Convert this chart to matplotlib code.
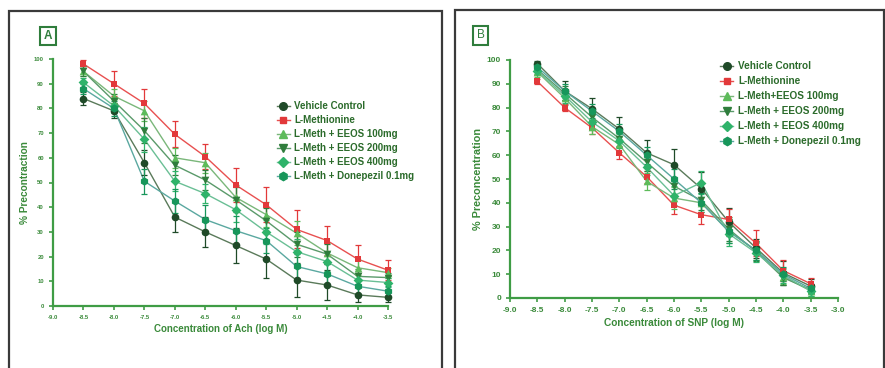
import matplotlib
matplotlib.use("Agg")
import matplotlib.pyplot as plt
from matplotlib.patches import Rectangle
import numpy as np

plt.rcParams['font.family'] = ['Liberation Sans', 'DejaVu Sans']

# ---------------- data ----------------
conc = [-8.5, -8.0, -7.5, -7.0, -6.5, -6.0, -5.5, -5.0, -4.5, -4.0, -3.5]

labels_a = ["Vehicle Control", "L-Methionine", "L-Meth + EEOS 100mg",
            "L-Meth + EEOS 200mg", "L-Meth + EEOS 400mg", "L-Meth + Donepezil 0.1mg"]
labels_b = ["Vehicle Control", "L-Methionine", "L-Meth+EEOS 100mg",
            "L-Meth + EEOS 200mg", "L-Meth + EEOS 400mg", "L-Meth + Donepezil 0.1mg"]

# Panel A (Ach)
a_vehicle = [84, 79, 58, 36, 30, 24.5, 19, 10.5, 8.5, 4.5, 3.5]
a_lmeth = [98, 90, 82, 69.5, 60.5, 49, 41, 31, 26.5, 19, 14.5]
a_e100 = [95, 85, 79, 60, 58, 44, 37, 29.5, 21.5, 15.5, 13.5]
a_e200 = [95, 83, 71, 57, 51, 43, 34.5, 25, 21, 12, 11.5]
a_e400 = [90.5, 81, 67.5, 50.5, 45.5, 39, 30, 22, 18, 10.5, 9.5]
a_done = [88, 80, 50.5, 42.5, 35, 30.5, 26.5, 16, 13, 8, 6]

a_vehicle_err = [2.5, 3, 5, 6, 6, 7, 7.5, 7, 6, 3, 2]
a_lmeth_err = [1.5, 5, 5.7, 5.3, 5, 7, 7, 7.7, 6, 5.7, 4]
a_e100_err = [2, 3, 4, 4, 4, 5, 5, 5, 4, 3, 2]
a_e200_err = [2, 3, 5, 4, 4, 5, 5, 5, 4, 3, 2]
a_e400_err = [2, 3, 5, 4, 4, 5, 5, 5, 4, 3, 2]
a_done_err = [2, 3, 5, 5, 6, 6, 5, 5, 4, 3, 2]

# Panel B (SNP)
b_vehicle = [98.5, 87, 79.5, 71, 61, 56, 46, 32, 21, 10.5, 5]
b_lmeth = [91, 80, 71.5, 61, 51, 39, 35, 33, 23, 11.5, 6]
b_e100 = [95, 84, 72, 64.5, 49, 42, 40, 28, 20, 9, 3]
b_e200 = [96, 86, 76, 67, 57, 47, 41, 29, 19.5, 8.5, 3.5]
b_e400 = [95.5, 85, 74, 66, 55, 43, 48.5, 27, 19, 9.5, 3]
b_done = [97, 87, 78.5, 70, 60, 50, 40, 28, 20, 10, 4]

b_vehicle_err = [1, 4, 4.5, 5, 5.5, 6.5, 7, 6, 4, 5, 3]
b_lmeth_err = [1, 1.5, 2.5, 2.5, 2.5, 3.5, 4, 4.5, 5.5, 4.5, 2.5]
b_e100_err = [2, 3, 3, 3, 3.5, 4.5, 4, 5, 4, 3, 2]
b_e200_err = [2, 3, 3, 3, 3.5, 4, 4, 5, 4, 3, 2]
b_e400_err = [2, 3, 3, 3, 3.5, 4, 5, 5, 4, 3, 2]
b_done_err = [2, 3, 3, 3, 3.5, 4, 4, 5, 4, 3, 2]

xticks_a = [-9.0, -8.5, -8.0, -7.5, -7.0, -6.5, -6.0, -5.5, -5.0, -4.5, -4.0, -3.5]
xticks_b = [-9.0, -8.5, -8.0, -7.5, -7.0, -6.5, -6.0, -5.5, -5.0, -4.5, -4.0, -3.5, -3.0]
yticks = [0, 10, 20, 30, 40, 50, 60, 70, 80, 90, 100]

# ---------------- style ----------------
colors = ['#1f4a28', '#e2393a', '#5dbb5a', '#2f7d3c', '#2fb36a', '#17965a']
line_colors = ['#5a7a5a', '#e85050', '#7ab77a', '#5a9a6a', '#6abf95', '#5aa8a0']
markers = ['o', 's', '^', 'v', 'D', 'h']
msizes = [5.5, 5, 5.5, 5.5, 5, 6]
axis_green = '#3f9c45'
text_green = '#3a8a3a'
legend_green = '#2b6b2b'

fig = plt.figure(figsize=(8.85, 3.68), dpi=100)

# panel frames
fig.patches.append(Rectangle((9/885, -0.05), (442-9)/885, 1.05 - 11/368,
                             transform=fig.transFigure, fill=False,
                             edgecolor='#3a3a3a', linewidth=1.6))
fig.patches.append(Rectangle((455/885, -0.05), (884-455)/885, 1.05 - 10/368,
                             transform=fig.transFigure, fill=False,
                             edgecolor='#3a3a3a', linewidth=1.6))


def draw_panel(ax, series, errs, labels, xticks, xlim, tick_fs, xlabel, ylabel,
               xlab_fs, ylab_fs, leg_anchor, leg_fs, leg_spacing, handle_len):
    for i, (ys, es) in enumerate(zip(series, errs)):
        ax.plot(conc, ys, color=line_colors[i], lw=1.0, zorder=2, clip_on=False)
        ax.errorbar(conc, ys, yerr=es, fmt='none', ecolor=colors[i], elinewidth=0.9,
                    capsize=2.2, capthick=0.9, zorder=3, clip_on=False)
        ax.plot([], [], color=line_colors[i], lw=1.0, marker=markers[i],
                markersize=msizes[i], markerfacecolor=colors[i],
                markeredgecolor=colors[i], label=labels[i])
        ax.scatter(conc, ys, marker=markers[i], s=msizes[i] ** 2, color=colors[i],
                   zorder=4, clip_on=False, linewidths=0)
    ax.set_xlim(*xlim)
    ax.set_ylim(0, 100)
    ax.set_xticks(xticks)
    ax.set_xticklabels([f"{t:.1f}" for t in xticks])
    ax.set_yticks(yticks)
    for s in ['top', 'right']:
        ax.spines[s].set_visible(False)
    for s in ['left', 'bottom']:
        ax.spines[s].set_color(axis_green)
        ax.spines[s].set_linewidth(1.6)
    ax.tick_params(axis='both', colors=axis_green, labelcolor=text_green,
                   labelsize=tick_fs, length=3, width=1.2, direction='out')
    for t in ax.get_xticklabels() + ax.get_yticklabels():
        t.set_fontweight('bold')
    ax.set_xlabel(xlabel, color=text_green, fontsize=xlab_fs, fontweight='bold', labelpad=3)
    ax.set_ylabel(ylabel, color=text_green, fontsize=ylab_fs, fontweight='bold', labelpad=3)
    leg = ax.legend(loc='upper left', bbox_to_anchor=leg_anchor,
                    bbox_transform=fig.transFigure, frameon=False,
                    fontsize=leg_fs, handlelength=handle_len, handletextpad=0.5,
                    labelspacing=leg_spacing, borderpad=0, borderaxespad=0)
    for t in leg.get_texts():
        t.set_color(legend_green)
        t.set_fontweight('bold')


axA = fig.add_axes([53/885, 1 - 306/368, 335/885, (306 - 59)/368])
draw_panel(axA,
           [a_vehicle, a_lmeth, a_e100, a_e200, a_e400, a_done],
           [a_vehicle_err, a_lmeth_err, a_e100_err, a_e200_err, a_e400_err, a_done_err],
           labels_a, xticks_a, (-9.0, -3.5), 4.2,
           "Concentration of Ach (log M)", "% Precontraction", 7.0, 7.3,
           (277/885, 1 - 101/368), 7.0, 0.42, 1.3)

axB = fig.add_axes([510/885, 1 - 298/368, 328/885, (298 - 60)/368])
draw_panel(axB,
           [b_vehicle, b_lmeth, b_e100, b_e200, b_e400, b_done],
           [b_vehicle_err, b_lmeth_err, b_e100_err, b_e200_err, b_e400_err, b_done_err],
           labels_b, xticks_b, (-9.0, -3.0), 6.0,
           "Concentration of SNP (log M)", "% Preconcentration", 7.3, 7.8,
           (720/885, 1 - 61/368), 7.2, 0.5, 1.3)

# panel letters
for (x0, y0, w, h, letter) in [(40, 27, 16, 18, 'A'), (473, 26, 15, 19, 'B')]:
    fig.patches.append(Rectangle((x0/885, 1 - (y0 + h)/368), w/885, h/368,
                                 transform=fig.transFigure, fill=False,
                                 edgecolor='#2f7d3c', linewidth=1.5))
    fig.text((x0 + w/2)/885, 1 - (y0 + h/2)/368, letter, ha='center', va='center',
             fontsize=8.5, fontweight='bold' if letter == 'A' else 'normal',
             color='#2f7d3c')

fig.savefig("out.png", dpi=100)
